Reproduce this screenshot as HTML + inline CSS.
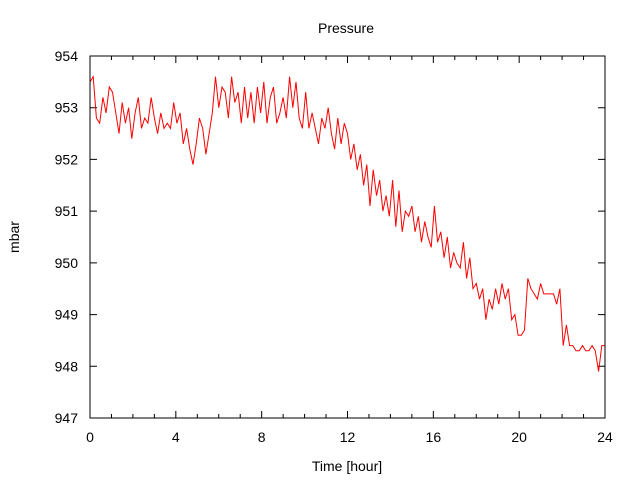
<!DOCTYPE html>
<html><head><meta charset="utf-8"><style>
body{margin:0;background:#fff}
svg text{font-family:"Liberation Sans",sans-serif;font-size:14px;fill:#000}
</style></head><body>
<svg width="640" height="480" id="c">
<rect width="640" height="480" fill="#fff"/>
<text x="346" y="33" text-anchor="middle">Pressure</text>
<text x="347" y="471" text-anchor="middle">Time [hour]</text>
<text x="19" y="237" text-anchor="middle" transform="rotate(-90 19 237)">mbar</text>
<g id="ax"></g>
<rect x="90" y="56" width="515" height="362" fill="none" stroke="#000" stroke-width="1"/>
</svg>
<script>
const xTicks=[0,4,8,12,16,20,24];
const yTicks=[947,948,949,950,951,952,953,954];
const step=0.15;
const pressure=[953.5,953.6,952.8,952.7,953.2,952.9,953.4,953.3,952.9,952.5,
953.1,952.7,953.0,952.4,952.9,953.2,952.6,952.8,952.7,953.2,
952.8,952.5,952.9,952.6,952.7,952.6,953.1,952.7,952.9,952.3,
952.6,952.2,951.9,952.3,952.8,952.6,952.1,952.5,952.9,953.6,
953.0,953.4,953.3,952.8,953.6,953.1,953.3,952.7,953.4,952.8,
953.3,952.7,953.4,952.9,953.5,952.7,953.2,953.4,952.7,952.9,
953.2,952.8,953.6,953.0,953.5,952.8,952.6,953.3,952.6,952.9,
952.6,952.3,952.8,952.6,953.0,952.5,952.2,952.8,952.3,952.7,
952.5,952.0,952.3,951.8,952.1,951.5,951.9,951.1,951.8,951.3,
951.6,951.0,951.3,950.9,951.6,950.7,951.4,950.6,951.0,950.9,
951.1,950.6,950.9,950.4,950.8,950.5,950.3,951.1,950.4,950.6,
950.1,950.5,949.9,950.2,950.0,949.9,950.4,949.7,950.1,949.5,
949.6,949.3,949.5,948.9,949.3,949.1,949.5,949.2,949.6,949.3,
949.5,948.9,949.0,948.6,948.6,948.7,949.7,949.5,949.4,949.3,
949.6,949.4,949.4,949.4,949.4,949.2,949.5,948.4,948.8,948.4,
948.4,948.3,948.3,948.4,948.3,948.3,948.4,948.3,947.9,948.4,
948.4];
const X=v=>90+(v/24)*515;
const Y=v=>418-(v-947)/7*362;
const ns="http://www.w3.org/2000/svg";
const g=document.getElementById('ax');
function mk(t,a){const e=document.createElementNS(ns,t);for(const k in a)e.setAttribute(k,a[k]);g.appendChild(e);return e;}
xTicks.forEach(t=>{
 const x=X(t);
 const l=mk('path',{d:`M${x},418v-7M${x},56v7`,stroke:'#000'});
 
 
 const tx=mk('text',{x:x,y:442,'text-anchor':'middle'});tx.textContent=t;
 
 
});
for(let m=1;m<24;m++){if(m%4){const x=X(m);const l=mk('path',{d:`M${x},418v-4M${x},56v4`,stroke:'#000'});
 
 }}
yTicks.forEach(t=>{
 const y=Y(t);
 const l=mk('path',{d:`M90,${y}h7M605,${y}h-7`,stroke:'#000'});
 
 
 const tx=mk('text',{x:78,y:y+5,'text-anchor':'end'});tx.textContent=t;
 
 
});
const d=pressure.map((v,i)=>(i?'L':'M')+X(i*step).toFixed(1)+','+Y(v).toFixed(1)).join('');
const p=mk('path',{d:d,fill:'none',stroke:'#f00','stroke-width':1});


</script>
</body></html>
